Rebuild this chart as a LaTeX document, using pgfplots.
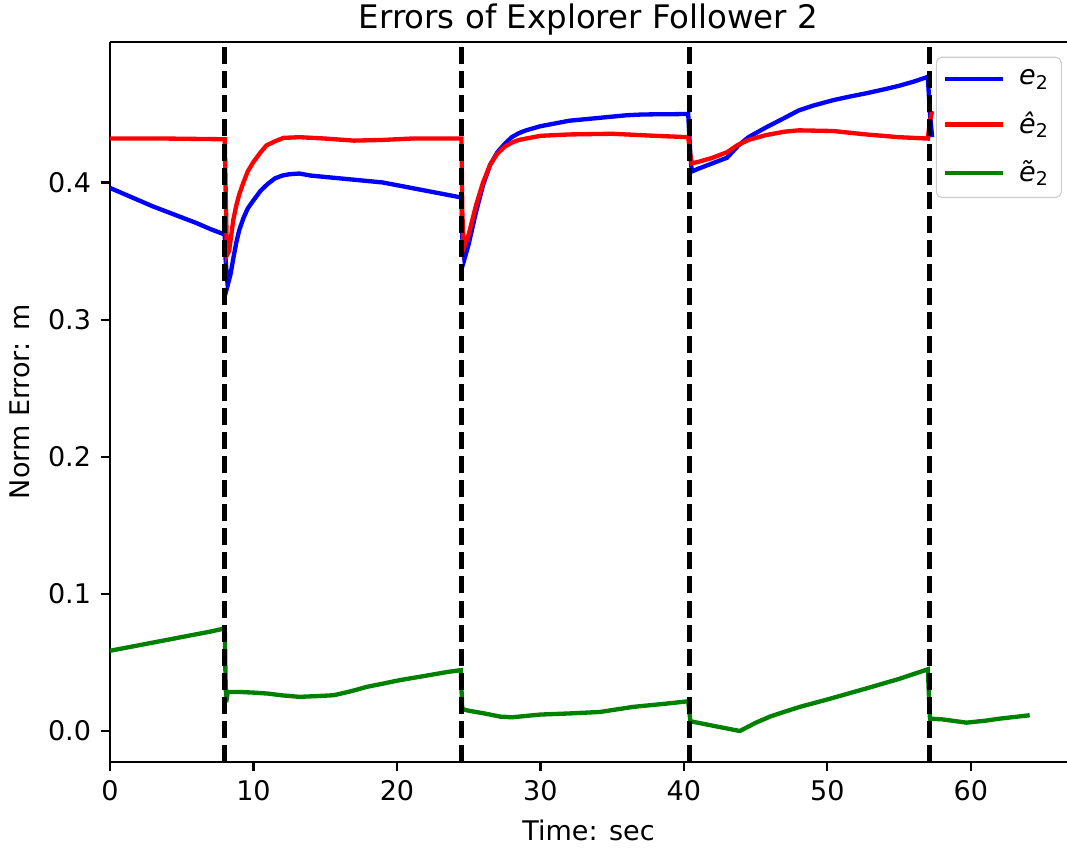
\documentclass[border=0pt]{standalone}
\usepackage{fontspec}
\setmainfont{DejaVu Sans}
\usepackage{pgfplots}
\pgfplotsset{compat=1.18}
\definecolor{mplblue}{rgb}{0,0,1}
\definecolor{mplred}{rgb}{1,0,0}
\definecolor{mplgreen}{rgb}{0,0.5,0}
\begin{document}
\begin{tikzpicture}
\useasboundingbox (-40.7pt,-31.8pt) rectangle (354.1pt,281.9pt);
\begin{axis}[
  scale only axis, width=354.1pt, height=266.4pt,
  xmin=0, xmax=66.7, ymin=-0.0225, ymax=0.5025,
  axis x line=box, axis y line=left,
  y axis line style={-},
  xtick pos=left, ytick pos=left,
  tick align=outside,
  major tick length=3.5pt,
  every tick/.style={black, line width=0.8pt},
  axis line style={line width=0.8pt, black},
  xtick={0,10,20,30,40,50,60},
  ytick={0,0.1,0.2,0.3,0.4},
  yticklabel style={/pgf/number format/.cd, fixed, fixed zerofill, precision=1},
  /pgf/number format/assume math mode=true,
  ticklabel style={font=\fontsize{10}{12}\selectfont},
  title={Errors of Explorer Follower 2},
  title style={font=\fontsize{12}{14}\selectfont, at={(0.5,1)}, anchor=base, yshift=-0.9pt},
  xlabel={Time: sec}, ylabel={Norm Error: m},
  label style={font=\fontsize{10}{12}\selectfont},
  legend style={at={(1,1)}, anchor=north east, xshift=-1.9pt, yshift=-5.5pt,
    draw=black!20, rounded corners=2pt, fill=white, fill opacity=0.8, text opacity=1,
    font=\fontsize{10}{12}\selectfont, row sep=4.5pt, column sep=3pt, inner sep=2.5pt,
    nodes={inner sep=2pt}},
  legend cell align=left,
  legend image code/.code={\draw[#1] (0pt,0pt) -- (21.5pt,0pt);},
]
\addplot[mplblue, line width=1.6pt] coordinates {
(0,0.396) (1,0.3915) (2,0.387) (3,0.3825) (4,0.3785) (5,0.3745) (6,0.3705) (7,0.366) (8.0,0.362)
(8.05,0.345) (8.2,0.325) (8.4,0.333) (8.6,0.345) (8.8,0.356) (9.0,0.365) (9.3,0.374) (9.6,0.381) (10.0,0.387)
(10.5,0.394) (11.0,0.399) (11.5,0.403) (12.0,0.405) (12.5,0.406) (13.2,0.4065) (14,0.405)
(15,0.404) (16,0.403) (17,0.402) (18,0.401) (19,0.400) (20,0.398) (21,0.396) (22,0.394)
(23,0.392) (24,0.390) (24.5,0.389)
(24.55,0.36) (24.7,0.344) (25.0,0.355) (25.5,0.378) (26.0,0.398) (26.5,0.413) (27.0,0.422)
(27.5,0.428) (28.0,0.433) (28.5,0.436) (29,0.438) (30,0.441) (31,0.443) (32,0.445) (33,0.446)
(34,0.447) (35,0.448) (36,0.449) (37,0.4495) (38,0.4497) (39,0.4497) (40.3,0.4500)
(40.45,0.42) (40.55,0.408) (41,0.410) (42,0.414) (43,0.418) (43.8,0.427) (44.5,0.433)
(45.7,0.440) (47,0.447) (48,0.4525) (49,0.456) (50.4,0.460) (51.5,0.4625) (52.7,0.465)
(54,0.468) (55,0.4705) (56,0.4735) (57.0,0.477) (57.15,0.45) (57.3,0.433)
};
\addlegendentry{\textit{e}\textsubscript{2}}
\addplot[mplred, line width=1.6pt] coordinates {
(0,0.432) (4,0.432) (8.0,0.4315) (8.05,0.40) (8.15,0.347) (8.3,0.350) (8.6,0.373) (8.8,0.383) (9.0,0.391)
(9.3,0.400) (9.6,0.408) (10.0,0.415) (10.5,0.422) (10.9,0.427) (11.5,0.430) (12.1,0.4325)
(13.2,0.433) (15,0.432) (17,0.4305) (19,0.431) (21,0.432) (24.5,0.432)
(24.55,0.38) (24.65,0.352) (25.0,0.362) (25.5,0.383) (26.0,0.400) (26.5,0.413) (27.0,0.421)
(27.5,0.426) (28.0,0.429) (28.5,0.431) (30,0.434) (32,0.435) (35,0.4355) (38,0.434) (40.3,0.433)
(40.45,0.42) (40.55,0.414) (41,0.415) (42,0.418) (43,0.422) (43.7,0.427) (44.5,0.431)
(45.7,0.4345) (47,0.437) (48,0.438) (50.4,0.4375) (52.7,0.435) (55,0.433) (57.0,0.432)
(57.15,0.445) (57.3,0.452)
};
\addlegendentry{\textit{ê}\textsubscript{2}}
\addplot[mplgreen, line width=1.6pt] coordinates {
(0,0.0585) (2,0.0625) (4,0.0665) (6,0.0705) (7,0.0725) (8.0,0.0748) (8.05,0.040) (8.1,0.021)
(8.2,0.0285) (9,0.0285) (10,0.028) (11,0.0273) (12,0.026) (13.2,0.0249) (14.5,0.0255)
(15.6,0.0261) (16.8,0.029) (17.9,0.0322) (19,0.0345) (20.2,0.0371) (21.4,0.0392) (22.5,0.0412)
(23.5,0.043) (24.45,0.0444) (24.55,0.016) (25,0.0148) (26,0.013) (27.2,0.0105) (28,0.0100)
(29,0.0110) (30,0.0120) (32,0.0128) (34.15,0.0139) (36.47,0.0176) (38.8,0.020) (40.3,0.0217)
(40.45,0.0071) (43.9,0.0) (45,0.006) (46,0.0105) (47,0.014) (48.08,0.0176) (50,0.023)
(52.7,0.031) (55,0.038) (57.0,0.0450) (57.15,0.009) (58,0.0085) (59.7,0.0061) (61,0.0075)
(62,0.009) (64.1,0.0115)
};
\addlegendentry{\textit{ẽ}\textsubscript{2}}
\addplot[black, line width=1.9pt, dash pattern=on 6.3pt off 2.6pt, forget plot] coordinates {(8.0,-0.0225) (8.0,0.5025)};
\addplot[black, line width=1.9pt, dash pattern=on 6.3pt off 2.6pt, forget plot] coordinates {(24.5,-0.0225) (24.5,0.5025)};
\addplot[black, line width=1.9pt, dash pattern=on 6.3pt off 2.6pt, forget plot] coordinates {(40.4,-0.0225) (40.4,0.5025)};
\addplot[black, line width=1.9pt, dash pattern=on 6.3pt off 2.6pt, forget plot] coordinates {(57.1,-0.0225) (57.1,0.5025)};
\end{axis}
\end{tikzpicture}
\end{document}
